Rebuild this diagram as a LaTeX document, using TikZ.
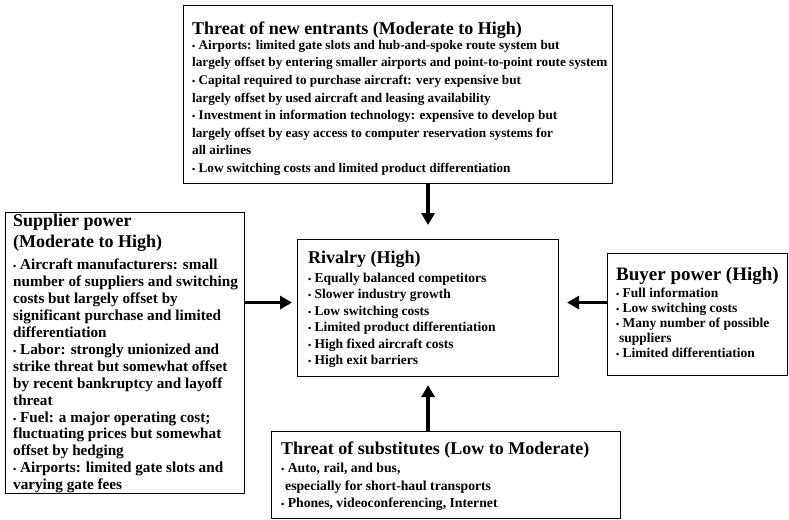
\documentclass[tikz,border=0pt]{standalone}
\usepackage{fontspec}
\setmainfont{Liberation Serif}
\usetikzlibrary{arrows.meta}
% small round list mark
\newcommand{\itemdot}{{\fontsize{9}{9}\selectfont •}}
\begin{document}
\begin{tikzpicture}[x=1pt,y=-1pt,
  panel/.style={draw, line width=1.1pt, inner sep=0pt, anchor=north west},
  heading/.style={anchor=north west, inner sep=0pt, align=left,
    font=\bfseries\fontsize{18}{21}\selectfont},
  items/.style={anchor=north west, inner sep=0pt, align=left,
    font=\bfseries\fontsize{13.5}{17}\selectfont},
  force/.style={line width=3.6pt, -{Triangle[length=12pt,width=13pt]}}]
\useasboundingbox (0,0) rectangle (789,519);

% the five force panels
\node[panel, minimum width=429pt, minimum height=178pt] (entrants) at (183,5) {};
\node[panel, minimum width=239pt, minimum height=281pt] (supplier) at (5,212) {};
\node[panel, minimum width=261pt, minimum height=137pt] (rivalry) at (297,239) {};
\node[panel, minimum width=180pt, minimum height=122pt] (buyer) at (607,253) {};
\node[panel, minimum width=349pt, minimum height=87pt] (substitutes) at (271,431) {};

% panel texts
\node[heading] (entrantsT) at (192,22) {Threat of new entrants (Moderate to High)};
\node[items, font=\bfseries\fontsize{13.2}{17.6}\selectfont] (entrantsB) at (192,40) {%
\itemdot{} Airports: limited gate slots and hub-and-spoke route system but\\
largely offset by entering smaller airports and point-to-point route system\\
\itemdot{} Capital required to purchase aircraft: very expensive but\\
largely offset by used aircraft and leasing availability\\
\itemdot{} Investment in information technology: expensive to develop but\\
largely offset by easy access to computer reservation systems for\\
all airlines\\
\itemdot{} Low switching costs and limited product differentiation};

\node[heading] (supplierT) at (13,214) {Supplier power\\(Moderate to High)};
\node[items, font=\bfseries\fontsize{15.2}{16.9}\selectfont] (supplierB) at (13,259) {%
\itemdot{} Aircraft manufacturers: small\\
number of suppliers and switching\\
costs but largely offset by\\
significant purchase and limited\\
differentiation\\
\itemdot{} Labor: strongly unionized and\\
strike threat but somewhat offset\\
by recent bankruptcy and layoff\\
threat\\
\itemdot{} Fuel: a major operating cost;\\
fluctuating prices but somewhat\\
offset by hedging\\
\itemdot{} Airports: limited gate slots and\\
varying gate fees};

\node[heading] (rivalryT) at (308,251) {Rivalry (High)};
\node[items, font=\bfseries\fontsize{13.5}{16.4}\selectfont] (rivalryB) at (308,273) {%
\itemdot{} Equally balanced competitors\\
\itemdot{} Slower industry growth\\
\itemdot{} Low switching costs\\
\itemdot{} Limited product differentiation\\
\itemdot{} High fixed aircraft costs\\
\itemdot{} High exit barriers};

\node[heading, font=\bfseries\fontsize{19}{21}\selectfont] (buyerT) at (616,267) {Buyer power (High)};
\node[items, font=\bfseries\fontsize{13.5}{14.9}\selectfont] (buyerB) at (616,288) {%
\itemdot{} Full information\\
\itemdot{} Low switching costs\\
\itemdot{} Many number of possible\\
\hspace*{3pt}suppliers\\
\itemdot{} Limited differentiation};

\node[heading] (substitutesT) at (281,442) {Threat of substitutes (Low to Moderate)};
\node[items, font=\bfseries\fontsize{13.7}{17.5}\selectfont] (substitutesB) at (281,463) {%
\itemdot{} Auto, rail, and bus,\\
\hspace*{4pt}especially for short-haul transports\\
\itemdot{} Phones, videoconferencing, Internet};

% forces acting on the rivalry panel
\path (rivalry.west) ++(0,-5.5) coordinate (rivalryW);
\path (rivalry.east) ++(0,-5.5) coordinate (rivalryE);
\draw[force, shorten >=14pt] (rivalry.north |- entrants.south) -- (rivalry.north);
\draw[force, shorten >=8pt] (rivalry.south |- substitutes.north) -- (rivalry.south);
\draw[force, shorten >=5pt] (supplier.east |- rivalryW) -- (rivalryW);
\draw[force, shorten >=8pt] (buyer.west |- rivalryE) -- (rivalryE);
\end{tikzpicture}
\end{document}
